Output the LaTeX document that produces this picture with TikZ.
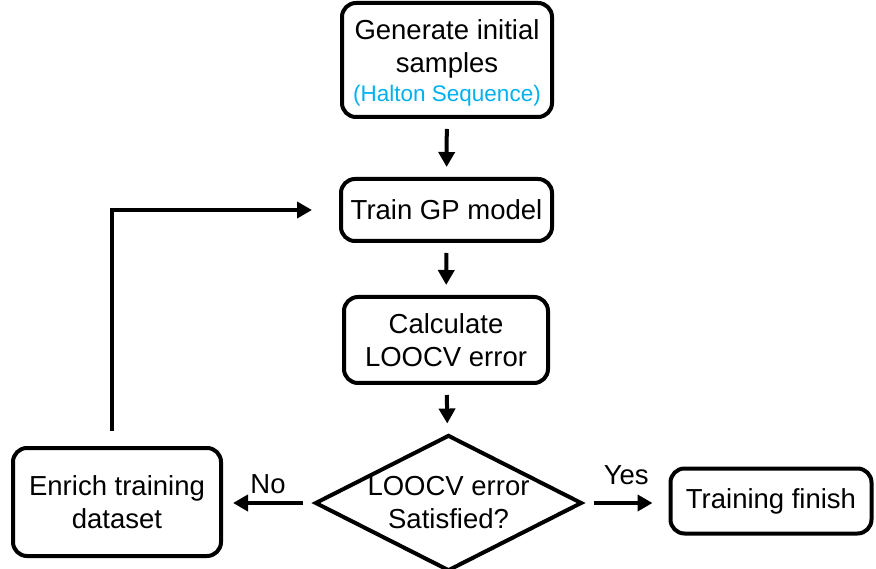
\documentclass[tikz,border=0pt]{standalone}
\usepackage{fontspec}
\setmainfont{Liberation Sans}
\usepackage{xcolor}
\usetikzlibrary{arrows.meta, positioning, shapes.geometric, calc}
\definecolor{haltonblue}{RGB}{0,176,240}

\begin{document}
\begin{tikzpicture}[x=1pt, y=-1pt, line width=4pt,
  block/.style={draw, rounded corners=14pt, align=center, inner sep=2pt, font=\fontsize{27.5}{33}\selectfont},
  decide/.style={draw, diamond, aspect=2, inner sep=0pt, align=center, font=\fontsize{27.5}{33}\selectfont},
  arr/.style={-{Triangle[length=15pt, width=16pt]}, shorten <=10pt, shorten >=10pt},
  lbl/.style={font=\fontsize{27.5}{33}\selectfont},
  ]
  \useasboundingbox (0,0) rectangle (876,569);
  % Main column
  \node[block, minimum width=210pt, minimum height=114pt] (init) at (447,60) {\\[-8pt]Generate initial\\samples\\[-4pt]{\fontsize{22.5}{26}\selectfont\color{haltonblue}(Halton Sequence)}};
  \node[block, minimum width=211pt, minimum height=62pt] (train) at (446.5,210) {Train GP model};
  \node[block, minimum width=204pt, minimum height=86pt] (calc) at (446,340) {Calculate\\LOOCV error};
  \node[decide, minimum width=267pt, minimum height=136pt] (check) at (448.5,503) {LOOCV error\\Satisfied?};
  % Branches
  \node[block, minimum width=208pt, minimum height=108pt] (enrich) at (117,502) {Enrich training\\dataset};
  \node[block, minimum width=201pt, minimum height=65pt] (finish) at (771,501) {Training finish};

  % Arrows
  \draw[arr] (init) -- (train);
  \draw[arr] (train) -- (calc);
  \draw[arr] (calc) -- (check);
  \draw[arr] (check.west) -- (check.west -| enrich.east) node[lbl, midway, above=4pt] {No};
  \draw[arr, shorten >=16pt] (check.east) -- (check.east -| finish.west) node[lbl, midway, above=13pt] {Yes};
  % Loop back
  \coordinate (loopstart) at ([xshift=-5pt, yshift=5pt]enrich.north);
  \draw[arr, shorten >=27pt] (loopstart) |- (train.west);
\end{tikzpicture}
\end{document}
